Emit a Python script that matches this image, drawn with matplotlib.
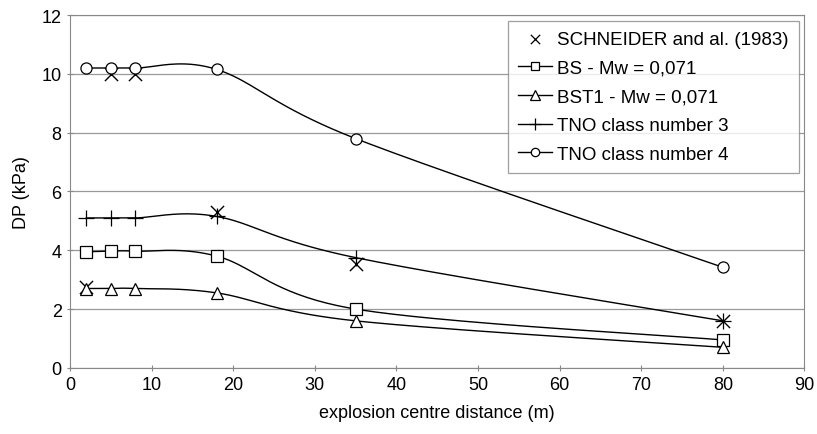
import numpy as np
import matplotlib
matplotlib.use("Agg")
from matplotlib import pyplot as plt

plt.rcParams['font.family'] = ['Liberation Sans', 'DejaVu Sans']

# data
dist = [2, 5, 8, 18, 35, 80]
schneider_x = [2, 5, 8, 18, 35, 80]
schneider_y = [2.75, 10.0, 10.0, 5.3, 3.55, 1.6]
bs = [3.95, 3.97, 3.97, 3.8, 2.0, 0.95]
bst1 = [2.7, 2.7, 2.7, 2.55, 1.6, 0.7]
tno3 = [5.1, 5.1, 5.1, 5.15, 3.75, 1.6]
tno4 = [10.2, 10.2, 10.2, 10.15, 7.8, 3.42]


def smooth(x, y, n=40):
    # excel-like smoothed line (bezier through the points)
    p = np.column_stack([x, y]).astype(float)
    p = np.vstack([p[0], p, p[-1]])
    out = []
    for i in range(1, len(p) - 2):
        p0, p1, p2, p3 = p[i - 1], p[i], p[i + 1], p[i + 2]
        c1 = p1 + (p2 - p0) / 6
        c2 = p2 - (p3 - p1) / 6
        t = np.linspace(0, 1, n)[:, None]
        seg = (1 - t) ** 3 * p1 + 3 * (1 - t) ** 2 * t * c1 + 3 * (1 - t) * t ** 2 * c2 + t ** 3 * p2
        out.append(seg)
    s = np.vstack(out)
    return s[:, 0], s[:, 1]


fig = plt.figure(figsize=(8.17, 4.35), dpi=100)
ax = fig.add_axes([0.0857, 0.152, 0.899, 0.811])

ax.scatter(schneider_x, schneider_y, marker='x', s=90, c='black', linewidths=1.0, zorder=4)
ax.scatter([], [], marker='x', s=45, c='black', linewidths=0.9, label='SCHNEIDER and al. (1983)')

series = [(bs, 's', 'BS - Mw = 0,071', 8),
          (bst1, '^', 'BST1 - Mw = 0,071', 9),
          (tno3, '+', 'TNO class number 3', 11),
          (tno4, 'o', 'TNO class number 4', 8)]
for vals, mk, lab, ms in series:
    sx, sy = smooth(dist, vals)
    ax.plot(sx, sy, color='black', lw=1.0, zorder=3)
    ax.plot(dist, vals, ls='none', marker=mk, ms=ms, mfc='white', mec='black', mew=0.9, zorder=5)
    ax.plot([], [], color='black', lw=1.0, marker=mk, ms=ms * 0.75, mfc='white', mec='black',
            mew=0.9, label=lab)

ax.set_xlim(0, 90)
ax.set_ylim(0, 12)
ax.set_xticks(range(0, 91, 10))
ax.set_yticks(range(0, 13, 2))
ax.yaxis.grid(True, color='#999999', lw=0.9)
ax.set_axisbelow(True)
for s in ['left', 'bottom', 'right', 'top']:
    ax.spines[s].set_color('#888888')
ax.tick_params(axis='both', labelsize=13, color='#888888', length=5, direction='inout')
ax.set_xlabel('explosion centre distance (m)', fontsize=13, labelpad=8)
ax.set_ylabel('DP (kPa)', fontsize=13, labelpad=8)

leg = ax.legend(loc='upper right', bbox_to_anchor=(0.998, 0.995), fontsize=13.5,
                frameon=True, fancybox=False, edgecolor='#888888', handlelength=1.8,
                labelspacing=0.62, borderpad=0.55, handletextpad=0.3, borderaxespad=0.2)
leg.get_frame().set_linewidth(0.9)

fig.savefig('out.png', dpi=100, facecolor='white')
